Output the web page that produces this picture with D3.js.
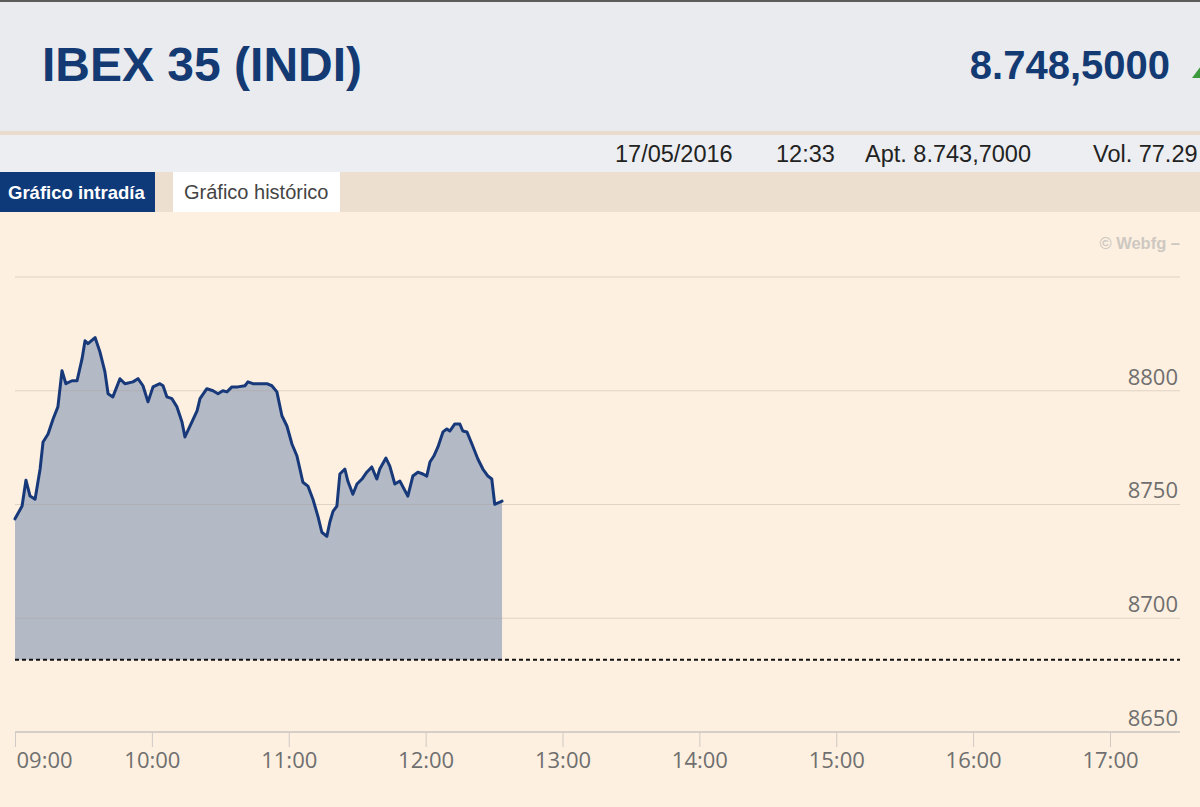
<!DOCTYPE html>
<html>
<head>
<meta charset="utf-8">
<script src="https://cdn.jsdelivr.net/npm/d3@7"></script>
<style>
  html, body { margin: 0; padding: 0; background: #fdf0e0; overflow: hidden; }
  svg { display: block; }
</style>
</head>
<body>
<svg id="chart" width="1200" height="807"></svg>
<script>
// ---- Data ----
const sessionDate = "2016-05-17";
const minutesAfterOpen = [0, 3.1, 4.8, 6.6, 8.8, 11.0, 12.3, 14.5, 16.7, 18.8, 20.6, 22.3, 25.0, 27.2, 29.4, 30.7, 32.0, 35.1, 37.2, 39.4, 40.8, 42.9, 46.0, 48.2, 51.7, 53.9, 56.1, 58.3, 60.5, 63.5, 64.9, 66.6, 68.8, 71.0, 73.2, 74.5, 76.7, 79.8, 81.1, 84.1, 86.8, 89.0, 91.1, 92.9, 95.1, 97.7, 100.8, 102.1, 104.3, 107.4, 110.4, 112.6, 114.8, 117.0, 119.2, 121.4, 123.6, 124.9, 126.2, 128.4, 130.6, 132.8, 134.5, 136.7, 138.0, 139.4, 141.1, 142.4, 144.6, 145.9, 148.1, 149.9, 152.1, 154.2, 156.4, 158.6, 159.9, 162.6, 164.3, 166.5, 168.7, 172.2, 174.4, 176.6, 178.8, 180.5, 181.9, 183.6, 185.4, 187.6, 189.3, 190.6, 192.8, 195.0, 196.3, 198.1, 200.3, 202.9, 205.1, 207.3, 209.0, 210.3, 212.5, 213.5];
const indexValues = [8743.7, 8749.3, 8760.7, 8753.7, 8752.3, 8765.6, 8777.5, 8781.0, 8787.6, 8792.9, 8808.8, 8803.1, 8804.4, 8804.4, 8814.1, 8822.0, 8820.7, 8823.4, 8817.2, 8808.4, 8798.7, 8797.3, 8805.3, 8803.1, 8803.9, 8805.3, 8802.2, 8795.1, 8801.7, 8803.1, 8802.2, 8797.3, 8796.5, 8792.9, 8786.3, 8779.7, 8784.5, 8791.2, 8796.5, 8800.9, 8800.0, 8798.7, 8800.0, 8799.5, 8801.7, 8801.7, 8802.2, 8803.9, 8803.1, 8803.1, 8803.1, 8802.2, 8799.5, 8789.0, 8784.5, 8776.6, 8771.3, 8765.6, 8759.8, 8758.1, 8752.3, 8744.8, 8737.8, 8736.0, 8742.2, 8747.0, 8749.3, 8763.4, 8765.6, 8760.3, 8754.5, 8759.0, 8761.2, 8764.2, 8766.5, 8761.2, 8765.6, 8770.4, 8766.9, 8759.0, 8760.3, 8753.7, 8762.5, 8764.2, 8763.4, 8762.5, 8768.7, 8771.3, 8775.3, 8781.9, 8783.2, 8782.3, 8785.4, 8785.4, 8782.3, 8781.9, 8776.6, 8770.0, 8765.6, 8762.5, 8761.2, 8750.1, 8751.0, 8751.5];
const previousClose = 8681.8;
const yTickValues = [8650, 8700, 8750, 8800];
const yGridValues = [8700, 8750, 8800, 8850];
const xTickLabels = ["09:00", "10:00", "11:00", "12:00", "13:00", "14:00", "15:00", "16:00", "17:00"];

const title = "IBEX 35 (INDI)";
const lastPrice = "8.748,5000";
const infoDate = "17/05/2016";
const infoTime = "12:33";
const infoOpen = "Apt. 8.743,7000";
const infoVol = "Vol. 77.29";
const tabActive = "Gráfico intradía";
const tabOther = "Gráfico histórico";
const watermark = "© Webfg –";

// ---- Setup ----
const svg = d3.select("#chart");
const W = 1200, H = 807;
const parse = d3.timeParse("%Y-%m-%d %H:%M");
const open = parse(sessionDate + " 09:00");
const data = minutesAfterOpen.map((m, i) => ({ t: new Date(open.getTime() + m * 60000), v: indexValues[i] }));

// Backgrounds
svg.append("rect").attr("x", 0).attr("y", 0).attr("width", W).attr("height", H).attr("fill", "#fdf0e0");
svg.append("rect").attr("x", 0).attr("y", 0).attr("width", W).attr("height", 131).attr("fill", "#e9ebee");
svg.append("rect").attr("x", 0).attr("y", 0).attr("width", W).attr("height", 2).attr("fill", "#5c5c5c");
svg.append("rect").attr("x", 0).attr("y", 131).attr("width", W).attr("height", 4).attr("fill", "#eadccc");
svg.append("rect").attr("x", 0).attr("y", 135).attr("width", W).attr("height", 37).attr("fill", "#eceef1");
svg.append("rect").attr("x", 0).attr("y", 172).attr("width", W).attr("height", 40).attr("fill", "#ecdfcf");

// Header texts
svg.append("text").attr("x", 42).attr("y", 81)
  .attr("font-family", "'Liberation Sans', Arial, sans-serif").attr("font-weight", "bold")
  .attr("font-size", 48).attr("fill", "#143a73").text(title);
svg.append("text").attr("x", 1170).attr("y", 79).attr("text-anchor", "end")
  .attr("font-family", "'Liberation Sans', Arial, sans-serif").attr("font-weight", "bold")
  .attr("font-size", 40).attr("fill", "#143a73").text(lastPrice);
svg.append("path").attr("d", "M1192,78 L1204,62 L1216,78 Z").attr("fill", "#3c9a3c");

const infoFont = "'Liberation Sans', Arial, sans-serif";
[[615, infoDate], [776, infoTime], [865, infoOpen], [1093, infoVol]].forEach(([x, t]) => {
  svg.append("text").attr("x", x).attr("y", 162).attr("font-family", infoFont)
    .attr("font-size", 23.5).attr("fill", "#222").text(t);
});

// Tabs
svg.append("rect").attr("x", 0).attr("y", 172).attr("width", 155).attr("height", 40).attr("fill", "#0e3a7a");
svg.append("text").attr("x", 8).attr("y", 199).attr("font-family", infoFont).attr("font-weight", "bold")
  .attr("font-size", 18.5).attr("fill", "#ffffff").text(tabActive);
svg.append("rect").attr("x", 173).attr("y", 172).attr("width", 167).attr("height", 40).attr("fill", "#ffffff");
svg.append("text").attr("x", 184).attr("y", 199).attr("font-family", infoFont)
  .attr("font-size", 20).attr("fill", "#444").text(tabOther);

// Watermark
svg.append("text").attr("x", 1180).attr("y", 249).attr("text-anchor", "end")
  .attr("font-family", infoFont).attr("font-weight", "bold").attr("font-size", 16.5)
  .attr("fill", "#cdc8c1").text(watermark);

// ---- Scales ----
const x = d3.scaleTime()
  .domain([parse(sessionDate + " 09:00"), parse(sessionDate + " 17:00")])
  .range([15, 1110]);
const y = d3.scaleLinear().domain([8650, 8850]).range([732, 277]);

const g = svg.append("g");

// Area down to previous close
const area = d3.area().x(d => x(d.t)).y0(y(previousClose)).y1(d => y(d.v));
g.append("path").datum(data).attr("d", area).attr("fill", "#b4b9c6");

// Grid lines (over fill)
g.selectAll("line.grid").data(yGridValues).join("line")
  .attr("class", "grid")
  .attr("x1", 15).attr("x2", 1180)
  .attr("y1", d => y(d)).attr("y2", d => y(d))
  .attr("stroke", "#a89d90").attr("stroke-opacity", 0.35).attr("stroke-width", 1.2);

// Previous close dashed line
g.append("line").attr("x1", 15).attr("x2", 1180)
  .attr("y1", y(previousClose)).attr("y2", y(previousClose))
  .attr("stroke", "#111").attr("stroke-width", 2).attr("stroke-dasharray", "4,3");

// Price line
const line = d3.line().x(d => x(d.t)).y(d => y(d.v));
g.append("path").datum(data).attr("d", line).attr("fill", "none")
  .attr("stroke", "#17397a").attr("stroke-width", 3).attr("stroke-linejoin", "round").attr("stroke-linecap", "round");

// X axis
const xTicks = xTickLabels.map(s => parse(sessionDate + " " + s));
const xAxis = d3.axisBottom(x).tickValues(xTicks).tickFormat(d3.timeFormat("%H:%M")).tickSize(15).tickPadding(5);
const xg = svg.append("g").attr("transform", "translate(0,732)").call(xAxis);
xg.select(".domain").attr("d", "M15,0H1180").attr("stroke", "#c9c5bf").attr("stroke-width", 1.5);
xg.selectAll(".tick line").attr("stroke", "#cfcac4").attr("stroke-width", 1);
xg.selectAll(".tick text").attr("font-family", "'Open Sans', sans-serif").attr("font-size", 22)
  .attr("fill", "#6f6f6f");
xg.selectAll(".tick text").filter((d, i) => i === 0).attr("text-anchor", "start").attr("dx", 1);

// Y axis labels (right)
const yAxis = d3.axisRight(y).tickValues(yTickValues).tickFormat(d3.format("d")).tickSize(0).tickPadding(0);
const yg = svg.append("g").attr("transform", "translate(1178,0)").call(yAxis);
yg.select(".domain").remove();
yg.selectAll(".tick text").attr("text-anchor", "end").attr("dy", "-0.3em")
  .attr("x", 0)
  .attr("font-family", "'Open Sans', sans-serif").attr("font-size", 22).attr("fill", "#6f6f6f");
</script>
</body>
</html>
